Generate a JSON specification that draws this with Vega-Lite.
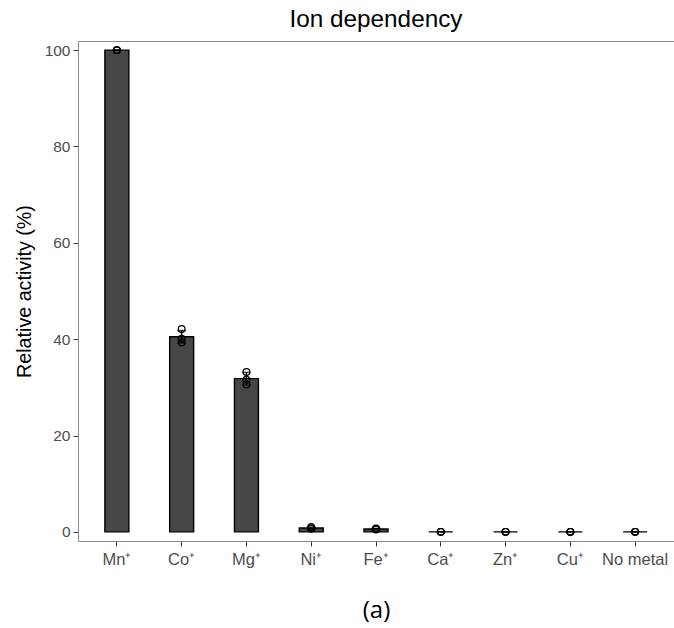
{
  "$schema": "https://vega.github.io/schema/vega-lite/v6.json",
  "width": 596,
  "height": 500,
  "autosize": {"type": "none"},
  "padding": {"left": 78, "top": 41, "right": 0, "bottom": 87},
  "background": "white",
  "title": {
    "text": "Ion dependency",
    "font": "Liberation Sans",
    "fontSize": 24.3,
    "fontWeight": "normal",
    "color": "black",
    "anchor": "middle",
    "baseline": "alphabetic",
    "offset": 13,
    "dy": 23
  },
  "datasets": {
    "summary": [
      {"metal": "Mn⁺", "mean": 100.0, "lo": 100.0, "hi": 100.0},
      {"metal": "Co⁺", "mean": 40.5, "lo": 39.2, "hi": 41.8},
      {"metal": "Mg⁺", "mean": 31.8, "lo": 30.5, "hi": 33.1},
      {"metal": "Ni⁺", "mean": 0.8, "lo": 0.6, "hi": 1.0},
      {"metal": "Fe⁺", "mean": 0.6, "lo": 0.5, "hi": 0.7},
      {"metal": "Ca⁺", "mean": 0.0, "lo": 0.0, "hi": 0.0},
      {"metal": "Zn⁺", "mean": 0.0, "lo": 0.0, "hi": 0.0},
      {"metal": "Cu⁺", "mean": 0.0, "lo": 0.0, "hi": 0.0},
      {"metal": "No metal", "mean": 0.0, "lo": 0.0, "hi": 0.0}
    ],
    "replicates": [
      {"metal": "Mn⁺", "value": 100.0},
      {"metal": "Mn⁺", "value": 100.0},
      {"metal": "Mn⁺", "value": 100.0},
      {"metal": "Co⁺", "value": 42.1},
      {"metal": "Co⁺", "value": 40.1},
      {"metal": "Co⁺", "value": 39.3},
      {"metal": "Mg⁺", "value": 33.2},
      {"metal": "Mg⁺", "value": 31.6},
      {"metal": "Mg⁺", "value": 30.6},
      {"metal": "Ni⁺", "value": 1.0},
      {"metal": "Ni⁺", "value": 0.7},
      {"metal": "Ni⁺", "value": 0.7},
      {"metal": "Fe⁺", "value": 0.7},
      {"metal": "Fe⁺", "value": 0.6},
      {"metal": "Fe⁺", "value": 0.5},
      {"metal": "Ca⁺", "value": 0.0},
      {"metal": "Ca⁺", "value": 0.0},
      {"metal": "Ca⁺", "value": 0.0},
      {"metal": "Zn⁺", "value": 0.0},
      {"metal": "Zn⁺", "value": 0.0},
      {"metal": "Zn⁺", "value": 0.0},
      {"metal": "Cu⁺", "value": 0.0},
      {"metal": "Cu⁺", "value": 0.0},
      {"metal": "Cu⁺", "value": 0.0},
      {"metal": "No metal", "value": 0.0},
      {"metal": "No metal", "value": 0.0},
      {"metal": "No metal", "value": 0.0}
    ]
  },
  "layer": [
    {
      "data": {"name": "summary"},
      "mark": {"type": "bar", "fill": "#474747", "stroke": "black", "strokeWidth": 1.4},
      "encoding": {
        "x": {
          "field": "metal", "type": "nominal", "sort": null,
          "scale": {"type": "band", "paddingInner": 0.63, "paddingOuter": 0.415},
          "axis": {
            "orient": "bottom",
            "title": "(a)",
            "titleFont": "Open Sans",
            "titleFontSize": 24,
            "titleFontWeight": "normal",
            "titleColor": "black",
            "titlePadding": 31,
            "labelAngle": 0,
            "labelFont": "Liberation Sans",
            "labelFontSize": 16.5,
            "labelColor": "#4d4d4d",
            "labelPadding": 5,
            "tickSize": 5,
            "tickColor": "#333333",
            "domainColor": "#8a8a8a",
            "domainWidth": 1
          }
        },
        "y": {
          "field": "mean", "type": "quantitative",
          "scale": {"domain": [-1.9, 101.9], "nice": false, "zero": false},
          "axis": {
            "title": "Relative activity (%)",
            "values": [0, 20, 40, 60, 80, 100],
            "grid": false,
            "titleFont": "Liberation Sans",
            "titleFontSize": 19.7,
            "titleFontWeight": "normal",
            "titleColor": "black",
            "titlePadding": 10,
            "labelFont": "Liberation Sans",
            "labelFontSize": 15.5,
            "labelColor": "#4d4d4d",
            "labelPadding": 3,
            "tickSize": 5,
            "tickColor": "#333333",
            "domainColor": "#8a8a8a",
            "domainWidth": 1
          }
        }
      }
    },
    {
      "data": {"name": "summary"},
      "mark": {"type": "rule", "color": "black", "strokeWidth": 1.5},
      "encoding": {
        "x": {"field": "metal", "type": "nominal", "sort": null, "axis": null},
        "y": {"field": "lo", "type": "quantitative", "title": "Relative activity (%)"},
        "y2": {"field": "hi"}
      }
    },
    {
      "data": {"name": "summary"},
      "mark": {"type": "tick", "orient": "horizontal", "color": "black", "size": 9, "thickness": 1.5},
      "encoding": {
        "x": {"field": "metal", "type": "nominal", "sort": null, "axis": null},
        "y": {"field": "lo", "type": "quantitative", "title": "Relative activity (%)"}
      }
    },
    {
      "data": {"name": "summary"},
      "mark": {"type": "tick", "orient": "horizontal", "color": "black", "size": 9, "thickness": 1.5},
      "encoding": {
        "x": {"field": "metal", "type": "nominal", "sort": null, "axis": null},
        "y": {"field": "hi", "type": "quantitative", "title": "Relative activity (%)"}
      }
    },
    {
      "data": {"name": "replicates"},
      "mark": {"type": "point", "shape": "circle", "filled": false, "stroke": "black", "strokeWidth": 1.2, "size": 45, "opacity": 1},
      "encoding": {
        "x": {
          "field": "metal", "type": "nominal", "sort": null,
          "axis": {
            "orient": "top", "title": null, "labels": false, "ticks": false,
            "domainColor": "#8a8a8a", "domainWidth": 1
          }
        },
        "y": {"field": "value", "type": "quantitative", "title": "Relative activity (%)"}
      }
    }
  ],
  "resolve": {"axis": {"x": "independent"}},
  "config": {
    "view": {"stroke": null},
    "axis": {"grid": false}
  }
}
